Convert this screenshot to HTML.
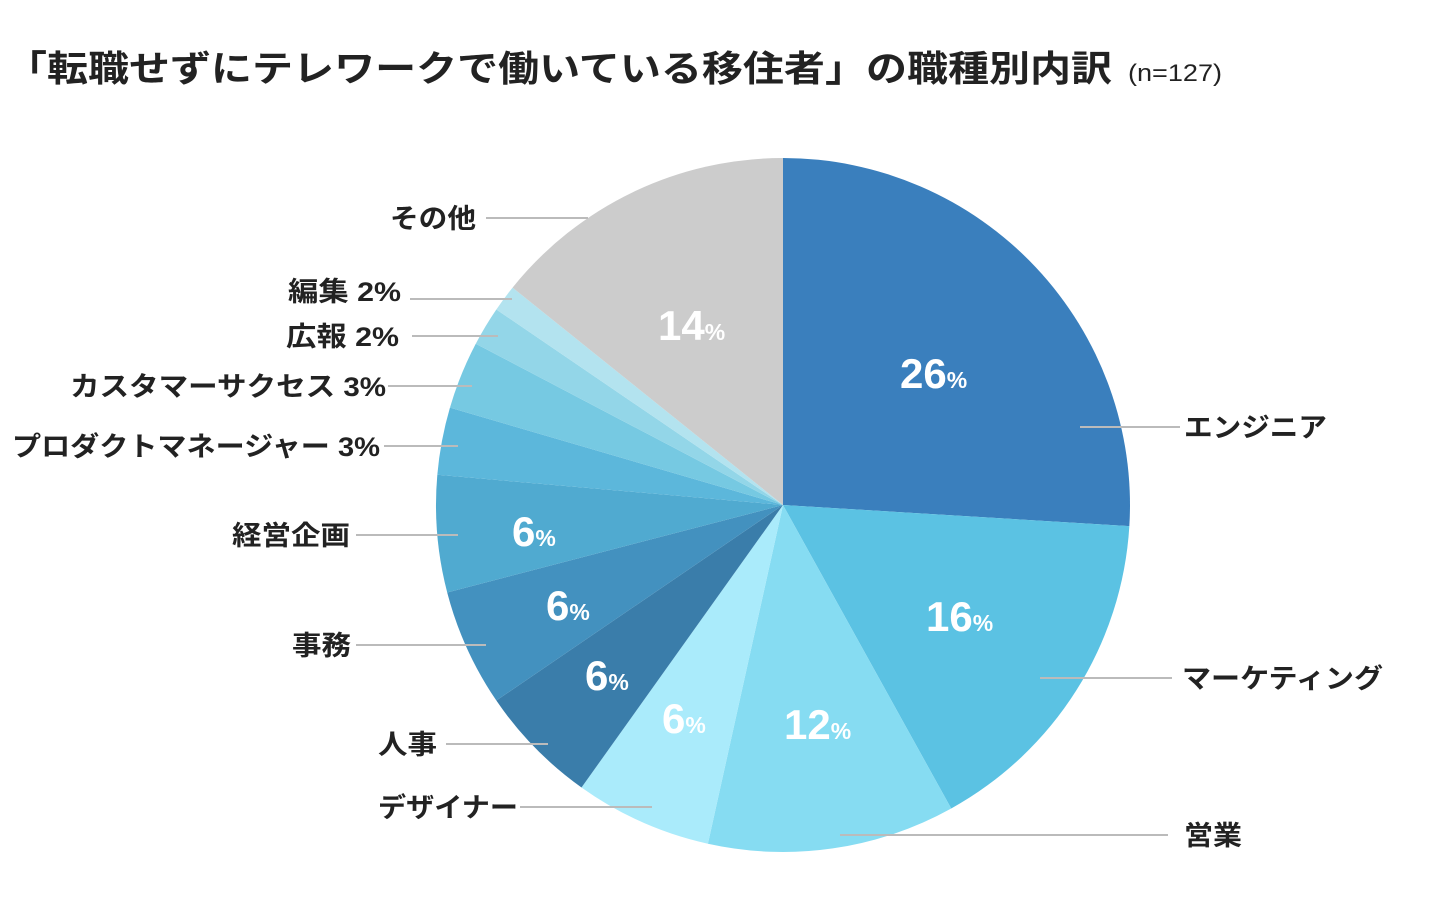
<!DOCTYPE html>
<html><head><meta charset="utf-8">
<style>
html,body{margin:0;padding:0;background:#fff;}
svg{display:block;font-family:"Liberation Sans","Noto Sans CJK JP",sans-serif;}
.lb{font-size:27px;font-weight:bold;fill:#222;}
.pc{font-size:42px;font-weight:bold;fill:#fff;}
.ps{font-size:23px;}
</style></head><body>
<svg id="s" width="1440" height="908" viewBox="0 0 1440 908">
<text x="6" y="81" font-size="36" font-weight="bold" fill="#222" textLength="1106" lengthAdjust="spacingAndGlyphs">「転職せずにテレワークで働いている移住者」の職種別内訳</text>
<text x="1128" y="81" font-size="24" fill="#222" textLength="94" lengthAdjust="spacingAndGlyphs">(n=127)</text>
<g id="pie"></g>
<g stroke="#bbb" stroke-width="2">
<line x1="1080" y1="427" x2="1180" y2="427"/>
<line x1="1040" y1="678" x2="1172" y2="678"/>
<line x1="840" y1="835" x2="1168" y2="835"/>
<line x1="520" y1="807" x2="652" y2="807"/>
<line x1="446" y1="744" x2="548" y2="744"/>
<line x1="356" y1="645" x2="486" y2="645"/>
<line x1="356" y1="535" x2="458" y2="535"/>
<line x1="384" y1="446" x2="458" y2="446"/>
<line x1="388" y1="386" x2="472" y2="386"/>
<line x1="412" y1="336" x2="498" y2="336"/>
<line x1="410" y1="299" x2="512" y2="299"/>
<line x1="486" y1="218" x2="588" y2="218"/>
</g>
<text class="lb" x="1184" y="437" textLength="143" lengthAdjust="spacingAndGlyphs">エンジニア</text>
<text class="lb" x="1182" y="688" textLength="201" lengthAdjust="spacingAndGlyphs">マーケティング</text>
<text class="lb" x="1184" y="845" textLength="58" lengthAdjust="spacingAndGlyphs">営業</text>
<text class="lb" x="378" y="817" textLength="140" lengthAdjust="spacingAndGlyphs">デザイナー</text>
<text class="lb" x="378" y="754" textLength="59" lengthAdjust="spacingAndGlyphs">人事</text>
<text class="lb" x="292" y="655" textLength="59" lengthAdjust="spacingAndGlyphs">事務</text>
<text class="lb" x="232" y="545" textLength="118" lengthAdjust="spacingAndGlyphs">経営企画</text>
<text class="lb" x="12" y="456" textLength="368" lengthAdjust="spacingAndGlyphs">プロダクトマネージャー 3%</text>
<text class="lb" x="70" y="396" textLength="316" lengthAdjust="spacingAndGlyphs">カスタマーサクセス 3%</text>
<text class="lb" x="286" y="346" textLength="113" lengthAdjust="spacingAndGlyphs">広報 2%</text>
<text class="lb" x="288" y="301" textLength="113" lengthAdjust="spacingAndGlyphs">編集 2%</text>
<text class="lb" x="390" y="228" textLength="86" lengthAdjust="spacingAndGlyphs">その他</text>
<text class="pc" x="900" y="388">26<tspan class="ps">%</tspan></text>
<text class="pc" x="926" y="631">16<tspan class="ps">%</tspan></text>
<text class="pc" x="784" y="739">12<tspan class="ps">%</tspan></text>
<text class="pc" x="662" y="733">6<tspan class="ps">%</tspan></text>
<text class="pc" x="585" y="690">6<tspan class="ps">%</tspan></text>
<text class="pc" x="546" y="620">6<tspan class="ps">%</tspan></text>
<text class="pc" x="512" y="546">6<tspan class="ps">%</tspan></text>
<text class="pc" x="658" y="340">14<tspan class="ps">%</tspan></text>
</svg>
<script>
var cx=783,cy=505,r=347;
var d=[[93.5,"#3a7fbd"],[151,"#5bc2e3"],[192.5,"#86dcf2"],[215.5,"#aaebfb"],[235.7,"#3a7daa"],[255.4,"#4391bf"],[275,"#50aad0"],[286.3,"#5cb7db"],[297.7,"#76c9e2"],[304.3,"#93d6e8"],[308.8,"#b3e3ef"],[360,"#cccccc"]];
var g=document.getElementById("pie"),a0=0,h="";
function pt(a){var t=a*Math.PI/180;return (cx+r*Math.sin(t)).toFixed(2)+","+(cy-r*Math.cos(t)).toFixed(2);}
d.forEach(function(s){var a1=s[0];h+='<path d="M'+cx+','+cy+' L'+pt(a0)+' A'+r+','+r+' 0 '+(a1-a0>180?1:0)+',1 '+pt(a1)+' Z" fill="'+s[1]+'"/>';a0=a1;});
g.innerHTML=h;
</script>
</body></html>
